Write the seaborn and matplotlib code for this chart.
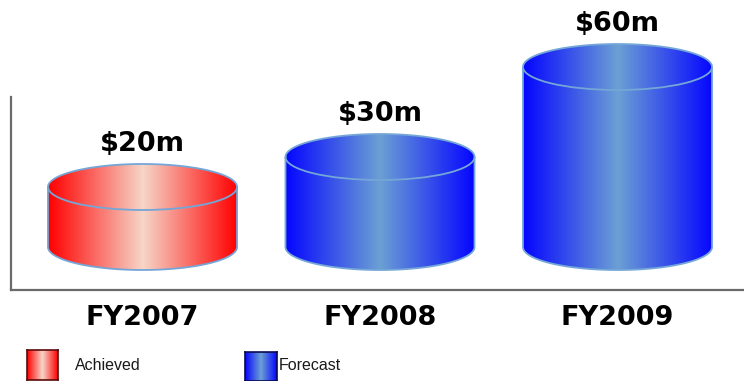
import numpy as np
import pandas as pd
import matplotlib
matplotlib.use("Agg")
import matplotlib.pyplot as plt
import seaborn as sns
from matplotlib.path import Path
from matplotlib.patches import PathPatch, Arc

# Revenue per financial year ($m)
years = ["FY2007", "FY2008", "FY2009"]
values = [20, 30, 60]
value_labels = ["$20m", "$30m", "$60m"]
status = ["Achieved", "Forecast", "Forecast"]
legend_labels = ["Achieved", "Forecast"]

sns.set_theme(style="white")
plt.rcParams["font.family"] = ["DejaVu Sans"]

W, H = 744, 381
fig = plt.figure(figsize=(W / 100, H / 100), dpi=100)
fig.patch.set_facecolor("white")
ax = fig.add_axes([11 / W, (H - 290) / H, (W - 11) / W, 290 / H])

df = pd.DataFrame({"year": years, "value": values, "status": status})
sns.barplot(data=df, x="year", y="value", ax=ax, width=0.796,
            color="white", errorbar=None, order=years)

# vertical scale: 3 px per $m, baseline 43 px above the axis line
px_per_unit = 3.0
ax.set_ylim(-43 / px_per_unit, 247 / px_per_unit)
ax.set_xlim(-0.5537, 2.5326)
ry = 23 / px_per_unit  # ellipse half-height in data units


def gradient_colors(edge, centre, n=256):
    t = np.abs(np.linspace(-1, 1, n))
    edge = np.array(edge) / 255.0
    centre = np.array(centre) / 255.0
    cols = centre[None, :] * (1 - t[:, None]) + edge[None, :] * t[:, None]
    return cols[None, :, :]


grads = {
    "Achieved": gradient_colors((255, 0, 0), (246, 214, 200)),
    "Forecast": gradient_colors((5, 5, 255), (108, 160, 212)),
}
outline = "#74a6d8"

for patch, st, lab in zip(ax.patches, status, value_labels):
    x0 = patch.get_x()
    w = patch.get_width()
    h = patch.get_height()
    x1 = x0 + w
    cx = x0 + w / 2
    rx = w / 2
    patch.set_visible(False)

    th = np.linspace(np.pi, 2 * np.pi, 80)
    bottom = np.column_stack([cx + rx * np.cos(th), ry * np.sin(th)])
    th2 = np.linspace(0, np.pi, 80)
    top_back = np.column_stack([cx + rx * np.cos(th2), h + ry * np.sin(th2)])
    verts = np.vstack([[[x0, h]], bottom, [[x1, h]], top_back, [[x0, h]]])
    codes = [Path.MOVETO] + [Path.LINETO] * (len(verts) - 2) + [Path.CLOSEPOLY]
    silhouette = Path(verts, codes)

    clip = PathPatch(silhouette, transform=ax.transData, facecolor="none",
                     edgecolor="none")
    ax.add_patch(clip)
    im = ax.imshow(grads[st], extent=(x0, x1, -ry, h + ry), aspect="auto",
                   interpolation="bilinear", zorder=2)
    im.set_clip_path(clip)

    ax.add_patch(PathPatch(silhouette, transform=ax.transData,
                           facecolor="none", edgecolor=outline, lw=1.3,
                           zorder=3))
    ax.add_patch(Arc((cx, h), w, 2 * ry, theta1=180, theta2=360,
                     edgecolor=outline, lw=1.3, zorder=3))

    ax.annotate(lab, (cx, h + ry), xytext=(0, 14.5), textcoords="offset points",
                ha="center", va="center", fontsize=19.5, fontweight="bold",
                color="black", zorder=4)

ax.set_xlim(-0.5537, 2.5326)
ax.set_ylim(-43 / px_per_unit, 247 / px_per_unit)

# axes frame: short left spine, full bottom spine
for side in ["top", "right"]:
    ax.spines[side].set_visible(False)
for side in ["left", "bottom"]:
    ax.spines[side].set_color("#6a6a6a")
    ax.spines[side].set_linewidth(1.6)
ax.spines["left"].set_bounds(-43 / px_per_unit, 150 / px_per_unit)
ax.set_yticks([])
ax.set_ylabel("")
ax.set_xlabel("")
ax.tick_params(axis="x", length=0, pad=11)
for t in ax.get_xticklabels():
    t.set_fontsize(19.5)
    t.set_fontweight("bold")
    t.set_color("black")

# legend swatches with gradient fill
swatches = [((27, 350, 31, 30), "Achieved", "#5a0a0a", 75),
            ((245, 352, 32, 29), "Forecast", "#0a0a50", 279)]
for (sx, sy, sw, sh), name, border, tx in swatches:
    sax = fig.add_axes([sx / W, (H - sy - sh) / H, sw / W, sh / H])
    sax.imshow(grads[name], aspect="auto", interpolation="bilinear")
    sax.set_xticks([])
    sax.set_yticks([])
    for sp in sax.spines.values():
        sp.set_visible(True)
        sp.set_color(border)
        sp.set_linewidth(1.2)
    fig.text(tx / W, (H - 365.5) / H, name, ha="left", va="center",
             fontsize=11.5, color="#1a1a1a", family=["Liberation Sans", "DejaVu Sans"])

fig.savefig("out.png", dpi=100)
